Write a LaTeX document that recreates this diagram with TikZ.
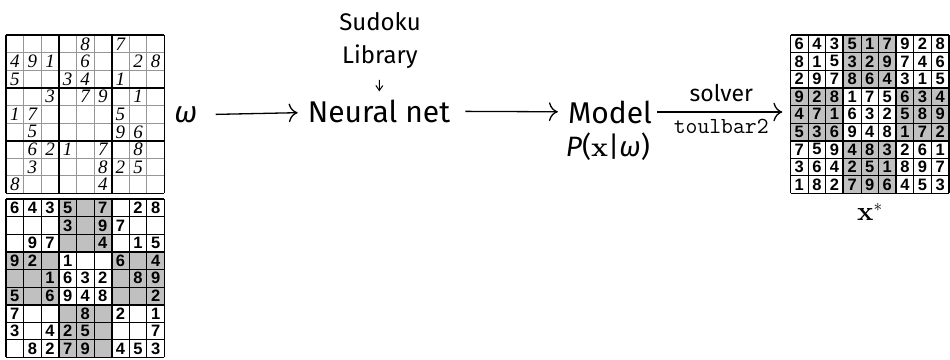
\documentclass[tikz,border=0pt]{standalone}
\usepackage[no-math]{fontspec}
\setmainfont{Fira Sans}
\newfontfamily\gridfont{Liberation Sans}
\newfontfamily\handfont{Liberation Serif}
\newfontfamily\lmbold{lmroman10-bold.otf}
\usetikzlibrary{arrows.meta}

\definecolor{boxgray}{RGB}{192,192,192}
\definecolor{thingray}{RGB}{150,150,150}

\tikzset{
  big/.style={font=\fontsize{30}{36}\selectfont, inner sep=0pt},
  mid/.style={font=\fontsize{24}{33}\selectfont, inner sep=0pt, align=center},
  flow/.style={-{Computer Modern Rightarrow[scale=2]}, line width=1.3pt},
  digit/.style={font=\gridfont\bfseries\fontsize{16.5}{16.5}\selectfont, inner sep=0pt},
  hand/.style={font=\handfont\itshape\fontsize{19}{19}\selectfont, inner sep=0pt},
}

\begin{document}
\begin{tikzpicture}[x=1pt, y=-1pt]
\useasboundingbox (0,0) rectangle (950,359);

\foreach \gx/\gy in {6/199, 790.5/35}
  \foreach \bx/\by in {1/0, 0/1, 2/1, 1/2}
    \fill[boxgray] ({\gx+\bx*52.8},{\gy+\by*52.8}) rectangle ++(52.8,52.8);

\foreach \gx/\gy/\col in {6/35/thingray, 6/199/black, 790.5/35/black} {
  \foreach \i in {0,...,9} {
    \draw[\col, line width=0.8pt] ({\gx+\i*17.6},\gy) -- ++(0,158.4);
    \draw[\col, line width=0.8pt] (\gx,{\gy+\i*17.6}) -- ++(158.4,0);
  }
  \foreach \i in {0,3,6,9} {
    \draw[black, line width=1.8pt] ({\gx+\i*17.6},\gy) -- ++(0,158.4);
    \draw[black, line width=1.8pt] (\gx,{\gy+\i*17.6}) -- ++(158.4,0);
  }
}

\foreach \row [count=\r] in {{0,0,0,0,8,0,7,0,0},{4,9,1,0,6,0,0,2,8},{5,0,0,3,4,0,1,0,0},
  {0,0,3,0,7,9,0,1,0},{1,7,0,0,0,0,5,0,0},{0,5,0,0,0,0,9,6,0},
  {0,6,2,1,0,7,0,8,0},{0,3,0,0,0,8,2,5,0},{8,0,0,0,0,4,0,0,0}}
  \foreach \d [count=\c] in \row {
    \ifnum\d>0 \node[hand] (h-\r-\c) at ({6+(\c-0.5)*17.6},{35+(\r-0.5)*17.6}) {\d}; \fi
  }

\foreach \row [count=\r] in {{6,4,3,5,0,7,0,2,8},{0,0,0,3,0,9,7,0,0},{0,9,7,0,0,4,0,1,5},
  {9,2,0,1,0,0,6,0,4},{0,0,1,6,3,2,0,8,9},{5,0,6,9,4,8,0,0,2},
  {7,0,0,0,8,0,2,0,1},{3,0,4,2,5,0,0,0,7},{0,8,2,7,9,0,4,5,3}}
  \foreach \d [count=\c] in \row {
    \ifnum\d>0 \node[digit] (q-\r-\c) at ({6+(\c-0.5)*17.6},{199+(\r-0.5)*17.6}) {\d}; \fi
  }

\foreach \row [count=\r] in {{6,4,3,5,1,7,9,2,8},{8,1,5,3,2,9,7,4,6},{2,9,7,8,6,4,3,1,5},
  {9,2,8,1,7,5,6,3,4},{4,7,1,6,3,2,5,8,9},{5,3,6,9,4,8,1,7,2},
  {7,5,9,4,8,3,2,6,1},{3,6,4,2,5,1,8,9,7},{1,8,2,7,9,6,4,5,3}}
  \foreach \d [count=\c] in \row
    \node[digit] (s-\r-\c) at ({790.5+(\c-0.5)*17.6},{35+(\r-0.5)*17.6}) {\d};

\node[inner sep=0pt, minimum size=158.4pt] (solgrid) at (869.7,114.2) {};
\node[font=\fontsize{27}{27}\selectfont, inner sep=0pt] (xstar) at (870,212) {{\lmbold x}$^*$};

\node[big] (omega) at (186,115) {\itshape ω};
\node[mid] (lib) at (380,40.6) {Sudoku\\Library};
\node[big] (net) at (379,111) {Neural net};
\node[big] (model) at (610,112) {Model};
\node[font=\fontsize{28}{28}\selectfont, inner sep=0pt] (prob) at (608,147) {\itshape P\upshape({\lmbold x}|\itshape ω\upshape)};

\draw[flow, shorten <=18pt, shorten >=10pt] (omega) -- (net);
\draw[-{Straight Barb[length=5pt,width=7pt]}, line width=1pt, shorten <=11pt, shorten >=8pt] (lib) -- (net);
\draw[flow, shorten <=15pt, shorten >=10pt] (net) -- (model);
\draw[flow, shorten <=5pt, shorten >=8pt] (model.east) -- node[above=10pt, font=\fontsize{23}{23}\selectfont, inner sep=0pt] (solv) {solver}
  node[below=7pt, font=\ttfamily\fontsize{23}{23}\selectfont, inner sep=0pt] (tb) {toulbar2} (model.east -| solgrid.west);
\end{tikzpicture}
\end{document}
